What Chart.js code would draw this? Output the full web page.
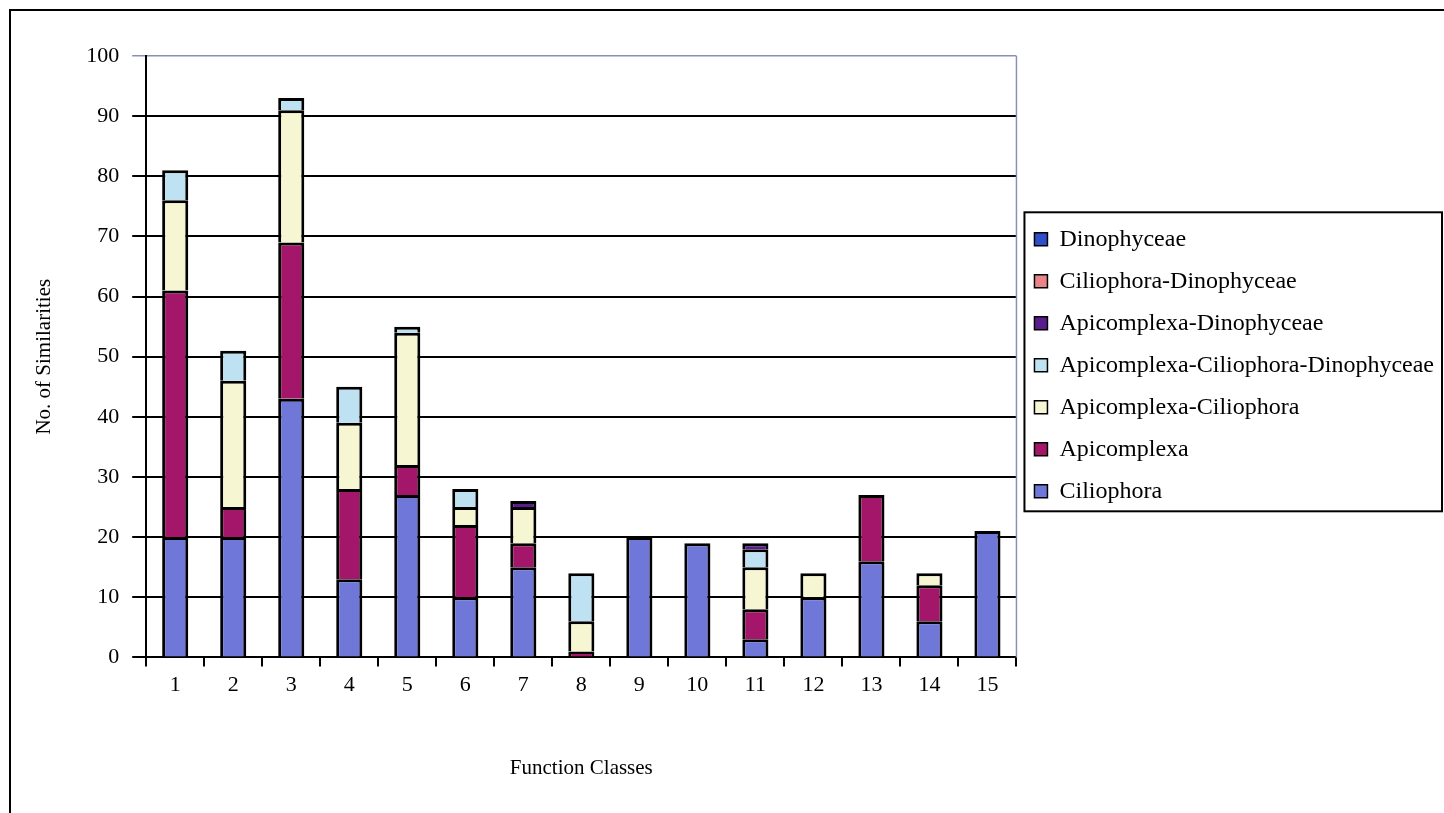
<!DOCTYPE html>
<html lang="en">
<head>
  <meta charset="UTF-8">
  <title>Function Classes</title>
  <script src="https://cdn.jsdelivr.net/npm/chart.js"></script>
  <style>
    html, body { margin: 0; padding: 0; background: #fff; }
    #wrap { width: 1444px; height: 813px; }
  </style>
</head>
<body>
  <div id="wrap"><canvas id="chart" width="1444" height="813"></canvas></div>
  <script>
    const classes = ['1', '2', '3', '4', '5', '6', '7', '8', '9', '10', '11', '12', '13', '14', '15'];

    // stacked bottom -> top
    const ciliophora   = [20, 20, 43, 13, 27, 10, 15, 0, 20, 19, 3, 10, 16, 6, 21];
    const apicomplexa  = [41, 5, 26, 15, 5, 12, 4, 1, 0, 0, 5, 0, 11, 6, 0];
    const apiCil       = [15, 21, 22, 11, 22, 3, 6, 5, 0, 0, 7, 4, 0, 2, 0];
    const apiCilDino   = [5, 5, 2, 6, 1, 3, 0, 8, 0, 0, 3, 0, 0, 0, 0];
    const apiDino      = [0, 0, 0, 0, 0, 0, 1, 0, 0, 0, 1, 0, 0, 0, 0];
    const cilDino      = [0, 0, 0, 0, 0, 0, 0, 0, 0, 0, 0, 0, 0, 0, 0];
    const dinophyceae  = [0, 0, 0, 0, 0, 0, 0, 0, 0, 0, 0, 0, 0, 0, 0];

    const serif = "'Liberation Serif', 'Times New Roman', serif";

    function series(label, data, color) {
      return {
        label: label,
        // empty segments are left out so they don't leave a black line
        data: data.map(v => (v === 0 ? null : v)),
        backgroundColor: color,
        borderColor: '#000',
        borderWidth: 3,
        borderSkipped: 'start',
        barPercentage: 0.45,
        categoryPercentage: 1
      };
    }

    // outer frame, plot right edge, and box round the legend
    const frame = {
      id: 'frame',
      beforeDraw(chart) {
        const c = chart.ctx;
        c.save();
        c.fillStyle = '#fff';
        c.fillRect(0, 0, chart.width, chart.height);
        c.strokeStyle = '#000';
        c.lineWidth = 2;
        c.strokeRect(10, 10, chart.width + 10, chart.height + 10);
        c.restore();
      },
      afterDraw(chart) {
        const c = chart.ctx;
        const a = chart.chartArea;
        c.save();
        c.strokeStyle = '#8a8fb8';
        c.lineWidth = 1.5;
        c.beginPath();
        c.moveTo(a.right, a.top);
        c.lineTo(a.right, a.bottom);
        c.stroke();

        const boxes = chart.legend.legendHitBoxes;
        if (boxes && boxes.length) {
          let top = Infinity, bottom = -Infinity, left = Infinity;
          boxes.forEach(b => {
            top = Math.min(top, b.top);
            bottom = Math.max(bottom, b.top + b.height);
            left = Math.min(left, b.left);
          });
          c.strokeStyle = '#000';
          c.lineWidth = 2;
          c.strokeRect(left - 10, top - 15, chart.width - 2 - (left - 10), bottom - top + 23);
        }
        c.restore();
      }
    };

    new Chart(document.getElementById('chart'), {
      type: 'bar',
      data: {
        labels: classes,
        datasets: [
          series('Ciliophora', ciliophora, '#6f78d8'),
          series('Apicomplexa', apicomplexa, '#a3166a'),
          series('Apicomplexa-Ciliophora', apiCil, '#f6f6d2'),
          series('Apicomplexa-Ciliophora-Dinophyceae', apiCilDino, '#bfe2f2'),
          series('Apicomplexa-Dinophyceae', apiDino, '#5b1d8e'),
          series('Ciliophora-Dinophyceae', cilDino, '#e8848a'),
          series('Dinophyceae', dinophyceae, '#2f4fc8')
        ]
      },
      options: {
        responsive: false,
        animation: false,
        layout: { padding: { left: 28, top: 56, right: 0, bottom: 28 } },
        plugins: {
          tooltip: { enabled: false },
          legend: {
            position: 'right',
            fullSize: false,
            reverse: true,
            maxWidth: 440,
            // empty title only nudges the items a little lower
            title: { display: true, text: '', font: { size: 1 }, padding: 8 },
            labels: {
              color: '#000',
              font: { family: serif, size: 24 },
              boxWidth: 13,
              boxHeight: 13,
              padding: 18,
              generateLabels(chart) {
                return Chart.defaults.plugins.legend.labels.generateLabels(chart).map(item => {
                  item.lineWidth = 1.5;
                  item.strokeStyle = '#000';
                  return item;
                });
              }
            }
          }
        },
        scales: {
          x: {
            stacked: true,
            grid: { drawOnChartArea: false, drawTicks: true, tickLength: 9, color: '#000', lineWidth: 2, offset: true },
            border: { color: '#000', width: 2 },
            ticks: { color: '#000', font: { family: serif, size: 22 }, padding: 6 },
            title: { display: true, text: 'Function Classes', color: '#000', font: { family: serif, size: 21 }, padding: { top: 51 } }
          },
          y: {
            stacked: true,
            min: 0,
            max: 100,
            grid: {
              color: ctx => (ctx.tick && ctx.tick.value === 100 ? '#8a8fb8' : '#000'),
              lineWidth: ctx => (ctx.tick && ctx.tick.value === 100 ? 1.5 : 2),
              tickLength: 14
            },
            border: { color: '#000', width: 2 },
            ticks: { stepSize: 10, color: '#000', font: { family: serif, size: 22 }, padding: 13 },
            title: { display: true, text: 'No. of Similarities', color: '#000', font: { family: serif, size: 21 }, padding: { bottom: 16 } }
          }
        }
      },
      plugins: [frame]
    });
  </script>
</body>
</html>
